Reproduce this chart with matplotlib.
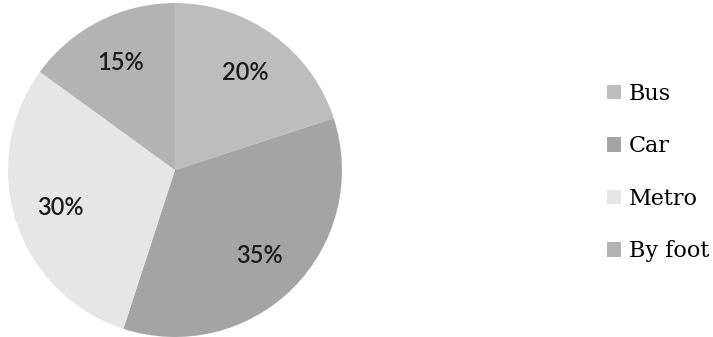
import matplotlib
matplotlib.use('Agg')
import numpy as np
from matplotlib import pyplot as plt


labels = ['Bus', 'Car', 'Metro', 'By foot']
shares = [20, 35, 30, 15]
colors = ['#bdbdbd', '#a4a4a4', '#e6e6e6', '#b3b3b3']

fig = plt.figure(figsize=(7.13, 3.37), dpi=100)
ax = fig.add_axes([0.0112, 0.0, 0.4684, 0.991])

wedges, texts, autotexts = ax.pie(
    shares, colors=colors, startangle=90, counterclock=False,
    autopct='%d%%', pctdistance=0.72,
    wedgeprops=dict(linewidth=0),
    textprops=dict(family='Lato', fontsize=17, fontweight='semibold', color='#1c1c1c'))
ax.set_xlim(-1, 1)
ax.set_ylim(-1, 1)

ax.legend(wedges, labels, loc='center left',
          bbox_to_anchor=(607 / 713, 0.488), bbox_transform=fig.transFigure,
          frameon=False, borderpad=0, borderaxespad=0,
          handlelength=0.62, handleheight=0.62, handletextpad=0.35,
          labelspacing=1.37,
          prop=dict(family='DejaVu Serif', size=16))

plt.savefig('out.png', dpi=100)
